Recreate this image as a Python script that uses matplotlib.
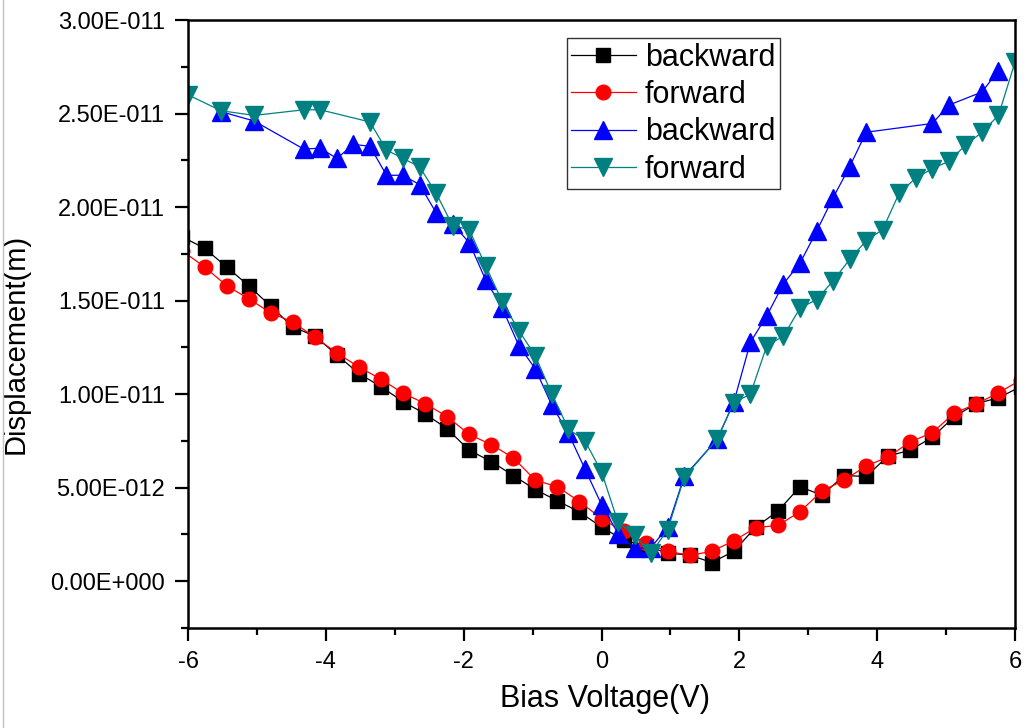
import numpy as np
import matplotlib
matplotlib.use("Agg")
import matplotlib.pyplot as plt
from matplotlib.lines import Line2D
from matplotlib.ticker import MultipleLocator, FuncFormatter

plt.rcParams["font.family"] = ["Liberation Sans", "DejaVu Sans"]
plt.rcParams["axes.unicode_minus"] = False

# sweep 1 (0.32 V step), displacement in units of 1e-12 m
v_sweep1 = [-6.08, -5.76, -5.44, -5.12, -4.80, -4.48, -4.16, -3.84, -3.52, -3.20,
            -2.88, -2.56, -2.24, -1.92, -1.60, -1.28, -0.96, -0.64, -0.32, 0.00,
            0.32, 0.64, 0.96, 1.28, 1.60, 1.92, 2.24, 2.56, 2.88, 3.20,
            3.52, 3.84, 4.16, 4.48, 4.80, 5.12, 5.44, 5.76, 6.08]
backward_1 = [18.4, 17.8, 16.8, 15.8, 14.7, 13.6, 13.1, 12.1, 11.1, 10.4,
              9.6, 8.95, 8.15, 7.0, 6.4, 5.65, 4.9, 4.3, 3.7, 2.9,
              2.2, 1.9, 1.5, 1.4, 1.0, 1.6, 2.9, 3.75, 5.05, 4.6,
              5.65, 5.6, 6.7, 7.0, 7.7, 8.8, 9.5, 9.8, 10.4]
forward_1 = [17.65, 16.8, 15.8, 15.1, 14.35, 13.85, 13.05, 12.2, 11.45, 10.8,
             10.05, 9.5, 8.8, 7.85, 7.3, 6.6, 5.4, 5.05, 4.26, 3.35,
             2.66, 2.04, 1.6, 1.38, 1.6, 2.16, 2.87, 2.98, 3.72, 4.82,
             5.41, 6.15, 6.65, 7.45, 7.94, 8.99, 9.48, 10.07, 10.75]

# sweep 2 (0.24 V step)
v_backward_2 = [-5.52, -5.04, -4.32, -4.08, -3.84, -3.60, -3.36, -3.12, -2.88, -2.64,
                -2.40, -2.16, -1.92, -1.68, -1.44, -1.20, -0.96, -0.72, -0.48, -0.24,
                0.00, 0.24, 0.48, 0.72, 0.96, 1.20, 1.68, 1.92, 2.16, 2.40,
                2.64, 2.88, 3.12, 3.36, 3.60, 3.84, 4.80, 5.04, 5.52, 5.76]
backward_2 = [25.1, 24.6, 23.1, 23.15, 22.6, 23.35, 23.25, 21.7, 21.7, 21.2,
              19.7, 19.1, 18.1, 16.1, 14.6, 12.6, 11.35, 9.4, 7.9, 6.0,
              4.1, 2.55, 1.75, 1.8, 2.9, 5.6, 7.6, 9.57, 12.77, 14.2,
              15.9, 17.0, 18.7, 20.5, 22.15, 24.0, 24.47, 25.45, 26.15, 27.3]
v_forward_2 = [-6.00, -5.52, -5.04, -4.32, -4.08, -3.36, -3.12, -2.88, -2.64, -2.40,
               -2.16, -1.92, -1.68, -1.44, -1.20, -0.96, -0.72, -0.48, -0.24, 0.00,
               0.24, 0.48, 0.72, 0.96, 1.20, 1.68, 1.92, 2.16, 2.40, 2.64,
               2.88, 3.12, 3.36, 3.60, 3.84, 4.08, 4.32, 4.56, 4.80, 5.04,
               5.28, 5.52, 5.76, 6.00]
forward_2 = [26.0, 25.15, 24.9, 25.2, 25.2, 24.55, 23.05, 22.6, 22.15, 20.75,
             19.0, 18.8, 16.85, 14.95, 13.4, 12.05, 10.0, 8.15, 7.5, 5.85,
             3.15, 2.45, 1.5, 2.75, 5.55, 7.6, 9.55, 10.0, 12.6, 13.1,
             14.6, 15.05, 16.05, 17.2, 18.2, 18.8, 20.75, 21.55, 22.05, 22.45,
             23.3, 24.0, 24.9, 27.75]

scale = 1e-12


def origin_sci(value, pos):
    if abs(value) < 1e-20:
        return "0.00E+000"
    exp = int(np.floor(np.log10(abs(value)) + 1e-9))
    mant = value / 10 ** exp
    return f"{mant:.2f}E{exp:+04d}"


fig = plt.figure(figsize=(10.24, 7.28), dpi=100)
ax = fig.add_axes([188 / 1024, 1 - 628 / 728, 827 / 1024, 608 / 728])

lw = 0.9
ax.plot(v_sweep1, np.array(backward_1) * scale, color="black", lw=lw,
        marker="s", ms=9.5, label="backward")
ax.plot(v_sweep1, np.array(forward_1) * scale, color="red", lw=lw,
        marker="o", ms=10.5, label="forward")
ax.plot(v_backward_2, np.array(backward_2) * scale, color="blue", lw=lw,
        marker="^", ms=12.5, label="backward")
ax.plot(v_forward_2, np.array(forward_2) * scale, color="#008080", lw=lw,
        marker="v", ms=12.5, label="forward")

ax.set_xlim(-6, 6)
ax.set_ylim(-2.5e-12, 3.0e-11)
ax.xaxis.set_major_locator(MultipleLocator(2))
ax.xaxis.set_minor_locator(MultipleLocator(1))
ax.yaxis.set_major_locator(MultipleLocator(5e-12))
ax.yaxis.set_minor_locator(MultipleLocator(2.5e-12))
ax.yaxis.set_major_formatter(FuncFormatter(origin_sci))

ax.tick_params(which="both", direction="out", width=1.6, labelsize=17,
               top=False, right=False)
ax.tick_params(which="major", length=9.5, pad=7)
ax.tick_params(which="minor", length=5)
for spine in ax.spines.values():
    spine.set_linewidth(1.8)

ax.set_xlabel("Bias Voltage(V)", fontsize=22)
ax.set_ylabel("Displacement(m)", fontsize=21)
ax.xaxis.set_label_coords(0.504, -0.092)
ax.yaxis.set_label_coords(-0.191, 0.467)

leg = ax.legend(loc="upper left", bbox_to_anchor=(0.458, 0.97),
                borderaxespad=0, fontsize=22, fancybox=False,
                framealpha=1, edgecolor="#333333", handlelength=2.1,
                handletextpad=0.3, labelspacing=0.24, borderpad=0.15)
leg.get_frame().set_linewidth(1.0)

fig.add_artist(Line2D([0.003, 0.003], [0, 1], color="#c0c0c0", lw=1,
                      transform=fig.transFigure))

fig.savefig("out.png", dpi=100)
